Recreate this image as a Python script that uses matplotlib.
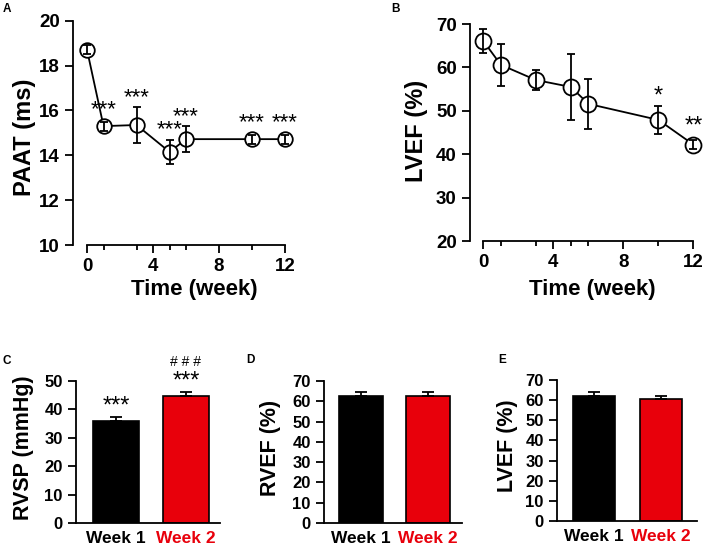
import matplotlib
matplotlib.use("Agg")
import matplotlib.pyplot as plt
import numpy as np

plt.rcParams['font.family'] = ['Liberation Sans', 'DejaVu Sans']
plt.rcParams['font.weight'] = 'bold'

# ---------------- data ----------------
weeks = [0, 1, 3, 5, 6, 10, 12]
paat_mean = [18.7, 15.3, 15.35, 14.15, 14.72, 14.72, 14.72]
paat_err = [0.2, 0.2, 0.8, 0.55, 0.58, 0.2, 0.2]
paat_sig = ["", "***", "***", "***", "***", "***", "***"]

lvef_mean = [66.1, 60.6, 57.1, 55.5, 51.6, 47.9, 42.2]
lvef_err = [2.7, 4.8, 2.2, 7.6, 5.7, 3.2, 1.1]
lvef_sig = ["", "", "", "", "", "*", "**"]

groups = ["Week 1", "Week 2"]
group_colors = ["#000000", "#e8000b"]
rvsp_mean = [35.8, 44.6]
rvsp_err = [1.5, 1.6]
rvsp_sig = ["***", "***"]
rvsp_sig2 = ["", "# # #"]
rvef_mean = [62.4, 62.4]
rvef_err = [2.0, 2.0]
lvef2_mean = [62.2, 60.5]
lvef2_err = [1.9, 1.6]

W, H = 709, 552
fig = plt.figure(figsize=(W / 100, H / 100), dpi=100)


def add_axes_px(left, right, top, bottom):
    return fig.add_axes([left / W, 1 - bottom / H, (right - left) / W, (bottom - top) / H])


def style(ax, tick_fs):
    for s in ['top', 'right']:
        ax.spines[s].set_visible(False)
    for s in ['left', 'bottom']:
        ax.spines[s].set_linewidth(1.3)
    ax.tick_params(width=1.3, labelsize=tick_fs, length=6)
    for lab in ax.get_xticklabels() + ax.get_yticklabels():
        lab.set_fontweight('bold')


def star(ax, x, y, off_px, text, fs, gap=1.0):
    # place text so its bottom sits off_px above data point (x, y)
    ax.annotate(text, xy=(x, y), xytext=(0, (off_px + gap) * 0.72),
                textcoords='offset points', ha='center', va='bottom',
                fontsize=fs, fontweight='normal')


def px_per_unit(ax):
    p0 = ax.transData.transform((0, 0))
    p1 = ax.transData.transform((0, 1))
    return (p1[1] - p0[1]) / (fig.dpi / 100)


def line_panel(ax, x, m, e, sig, ylim, yticks, ms, ylabel, lab_right, lab_cy, xlab_cx, xlab_top, star_fs):
    ax.plot(x, m, '-', color='black', lw=1.3, zorder=2)
    ax.plot(x, m, 'o', ms=ms, mfc='white', mec='black', mew=1.3, zorder=3, ls='none')
    ax.errorbar(x, m, yerr=e, fmt='none', ecolor='black', elinewidth=1.3, capsize=3, capthick=1.3, zorder=4)
    ax.set_ylim(*ylim)
    ax.set_yticks(yticks)
    ax.spines['left'].set_bounds(yticks[0], yticks[-1])
    ax.set_xticks([0, 4, 8, 12])
    ax.set_xticks([1, 3, 5, 6, 10], minor=True)
    ax.spines['bottom'].set_bounds(0, 12)
    style(ax, 13.5)
    ax.tick_params(axis='x', which='minor', length=3.5, width=1.3)
    ax.set_ylabel(ylabel, fontsize=17, fontweight='bold')
    ax.yaxis.set_label_coords(lab_right / W, 1 - lab_cy / H, transform=fig.transFigure)
    ax.set_xlabel('Time (week)', fontsize=16, fontweight='bold')
    ax.xaxis.set_label_coords(xlab_cx / W, 1 - xlab_top / H, transform=fig.transFigure)
    ppu = px_per_unit(ax)
    for xi, mi, ei, s in zip(x, m, e, sig):
        if s:
            off = max(ei * ppu, ms / 0.72 / 2)
            star(ax, xi, mi, off, s, star_fs, gap=-1.0)


# Panel A
axA = add_axes_px(73, 295, 14, 245)
axA.set_xlim(-0.85, 12.6)
line_panel(axA, weeks, paat_mean, paat_err, paat_sig, (10, 20.3), [10, 12, 14, 16, 18, 20],
           10.5, 'PAAT (ms)', 36, 137, 194, 279, 16)

# Panel B
axB = add_axes_px(470, 704, 19.7, 241)
axB.set_xlim(-0.76, 12.6)
line_panel(axB, weeks, lvef_mean, lvef_err, lvef_sig, (20, 71), [20, 30, 40, 50, 60, 70],
           11.5, 'LVEF (%)', 428, 131, 592, 279, 17)


def bar_panel(ax, m, e, ylim, yticks, ylabel, lab_right, lab_cy, width, sig=None, sig2=None):
    xs = np.arange(len(m))
    ax.bar(xs, m, width=width, color=group_colors, edgecolor='black', linewidth=1.2, zorder=2)
    ax.errorbar(xs, m, yerr=[np.zeros(len(m)), e], fmt='none', ecolor='black',
                elinewidth=1.3, capsize=4, capthick=1.3, zorder=3)
    ax.set_ylim(*ylim)
    ax.set_yticks(yticks)
    ax.spines['left'].set_bounds(yticks[0], yticks[-1])
    ax.set_xticks(xs)
    ax.set_xticklabels(groups)
    style(ax, 12)
    ax.tick_params(axis='x', length=0, labelsize=12.5, pad=6)
    for lab, c in zip(ax.get_xticklabels(), group_colors):
        lab.set_color(c)
        lab.set_fontweight('bold')
    ax.set_ylabel(ylabel, fontsize=15.5, fontweight='bold')
    ax.yaxis.set_label_coords(lab_right / W, 1 - lab_cy / H, transform=fig.transFigure)
    if sig:
        ppu = px_per_unit(ax)
        for xi, mi, ei, s in zip(xs, m, e, sig):
            if s:
                star(ax, xi, mi, ei * ppu, s, 17, gap=-1.0)
        if sig2:
            for xi, mi, ei, s in zip(xs, m, e, sig2):
                if s:
                    star(ax, xi, mi, ei * ppu + 22, s, 10)


axC = add_axes_px(76, 220, 378, 523)
axC.set_xlim(-0.571, 1.486)
bar_panel(axC, rvsp_mean, rvsp_err, (0, 51), [0, 10, 20, 30, 40, 50], 'RVSP (mmHg)', 34, 448, 0.66,
          rvsp_sig, rvsp_sig2)

axD = add_axes_px(324, 462, 379, 523)
axD.set_xlim(-0.548, 1.5)
bar_panel(axD, rvef_mean, rvef_err, (0, 71), [0, 10, 20, 30, 40, 50, 60, 70], 'RVEF (%)', 281, 448, 0.65)

axE = add_axes_px(557, 697, 378, 521)
axE.set_xlim(-0.541, 1.53)
bar_panel(axE, lvef2_mean, lvef2_err, (0, 71), [0, 10, 20, 30, 40, 50, 60, 70], 'LVEF (%)', 518, 446, 0.62)

# panel letters
for letter, (px, py) in zip("ABCDE", [(6.5, 9.5), (395, 9), (6.5, 361), (250, 360), (502, 360)]):
    fig.text(px / W, 1 - py / H, letter, fontsize=8.5, fontweight='bold', ha='center', va='center')

fig.savefig('out.png', dpi=100)
